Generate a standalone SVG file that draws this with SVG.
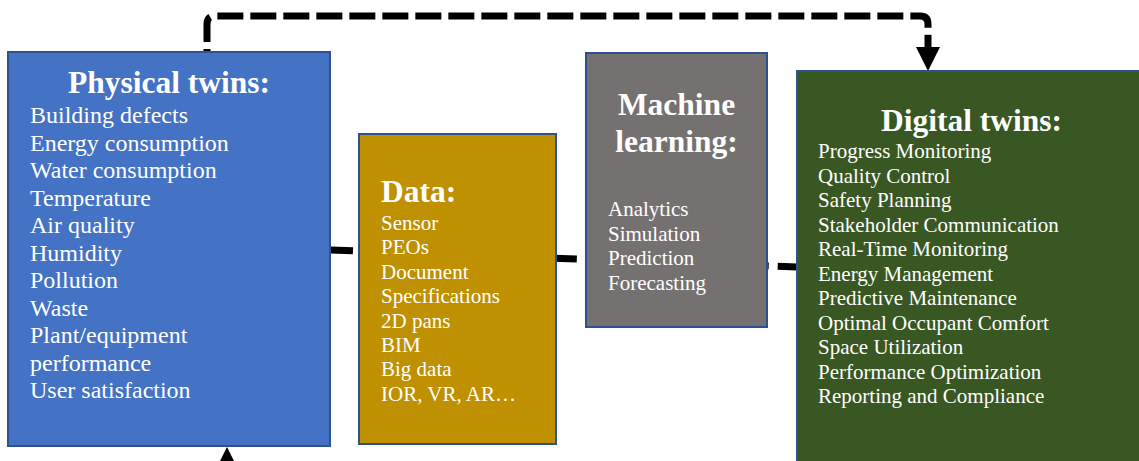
<svg xmlns="http://www.w3.org/2000/svg" width="1139" height="461" viewBox="0 0 1139 461">
  <style>
    .box { stroke: #2F528F; stroke-width: 2; }
    .title { font-family: "Liberation Serif", "Times New Roman", serif; font-weight: bold; font-size: 31.5px; fill: #FFFFFF; }
    .item { font-family: "Liberation Serif", "Times New Roman", serif; font-size: 21px; fill: #FFFFFF; }
    .item-lg { font-family: "Liberation Serif", "Times New Roman", serif; font-size: 24px; fill: #FFFFFF; }
    .dash { fill: none; stroke: #000000; stroke-width: 7; }
    .head { fill: #000000; }
  </style>

  <rect width="1139" height="461" fill="#FFFFFF"/>

  <!-- connectors (drawn first so the boxes sit on top) -->
  <g id="connectors">
    <!-- main flow line running through all four blocks -->
    <line class="dash" x1="330" y1="250" x2="797" y2="267" stroke-dasharray="23 9"/>
    <!-- feedback loop from physical twins over to digital twins -->
    <path class="dash" stroke-width="6.5" stroke-dasharray="26 7" stroke-dashoffset="23"
          d="M207,52 L207,24 Q207,16 215,16 L920,16 Q928,16 928,24 L928,48"/>
    <polygon class="head" points="916,47 940,47 928,71"/>
    <!-- arrow entering physical twins from below -->
    <polygon class="head" points="227,447 215,471 239,471"/>
  </g>

  <!-- Physical twins -->
  <g id="physical-twins">
    <rect class="box" x="8" y="52" width="322" height="394" fill="#4472C4"/>
    <text class="title" x="169" y="93" text-anchor="middle">Physical twins:</text>
    <text class="item-lg" x="30" y="123">Building defects</text>
    <text class="item-lg" x="30" y="150.5">Energy consumption</text>
    <text class="item-lg" x="30" y="178">Water consumption</text>
    <text class="item-lg" x="30" y="205.5">Temperature</text>
    <text class="item-lg" x="30" y="233">Air quality</text>
    <text class="item-lg" x="30" y="260.5">Humidity</text>
    <text class="item-lg" x="30" y="288">Pollution</text>
    <text class="item-lg" x="30" y="315.5">Waste</text>
    <text class="item-lg" x="30" y="343">Plant/equipment</text>
    <text class="item-lg" x="30" y="370.5">performance</text>
    <text class="item-lg" x="30" y="398">User satisfaction</text>
  </g>

  <!-- Data -->
  <g id="data">
    <rect class="box" x="359" y="134" width="197" height="310" fill="#BF9000"/>
    <text class="title" x="381" y="202">Data:</text>
    <text class="item" x="381" y="230">Sensor</text>
    <text class="item" x="381" y="254.4">PEOs</text>
    <text class="item" x="381" y="278.8">Document</text>
    <text class="item" x="381" y="303.2">Specifications</text>
    <text class="item" x="381" y="327.6">2D pans</text>
    <text class="item" x="381" y="352">BIM</text>
    <text class="item" x="381" y="376.4">Big data</text>
    <text class="item" x="381" y="400.8">IOR, VR, AR…</text>
  </g>

  <!-- Machine learning -->
  <g id="machine-learning">
    <rect class="box" x="586" y="53" width="181" height="274" fill="#767171"/>
    <text class="title" x="676.5" y="115" text-anchor="middle">Machine</text>
    <text class="title" x="676.5" y="152" text-anchor="middle">learning:</text>
    <text class="item" x="608" y="216">Analytics</text>
    <text class="item" x="608" y="240.5">Simulation</text>
    <text class="item" x="608" y="265">Prediction</text>
    <text class="item" x="608" y="289.5">Forecasting</text>
  </g>

  <!-- Digital twins -->
  <g id="digital-twins">
    <rect class="box" x="797" y="71" width="360" height="400" fill="#385723"/>
    <text class="title" x="971.5" y="131" text-anchor="middle">Digital twins:</text>
    <text class="item" x="818" y="158">Progress Monitoring</text>
    <text class="item" x="818" y="182.5">Quality Control</text>
    <text class="item" x="818" y="207">Safety Planning</text>
    <text class="item" x="818" y="231.5">Stakeholder Communication</text>
    <text class="item" x="818" y="256">Real-Time Monitoring</text>
    <text class="item" x="818" y="280.5">Energy Management</text>
    <text class="item" x="818" y="305">Predictive Maintenance</text>
    <text class="item" x="818" y="329.5">Optimal Occupant Comfort</text>
    <text class="item" x="818" y="354">Space Utilization</text>
    <text class="item" x="818" y="378.5">Performance Optimization</text>
    <text class="item" x="818" y="403">Reporting and Compliance</text>
  </g>
</svg>
